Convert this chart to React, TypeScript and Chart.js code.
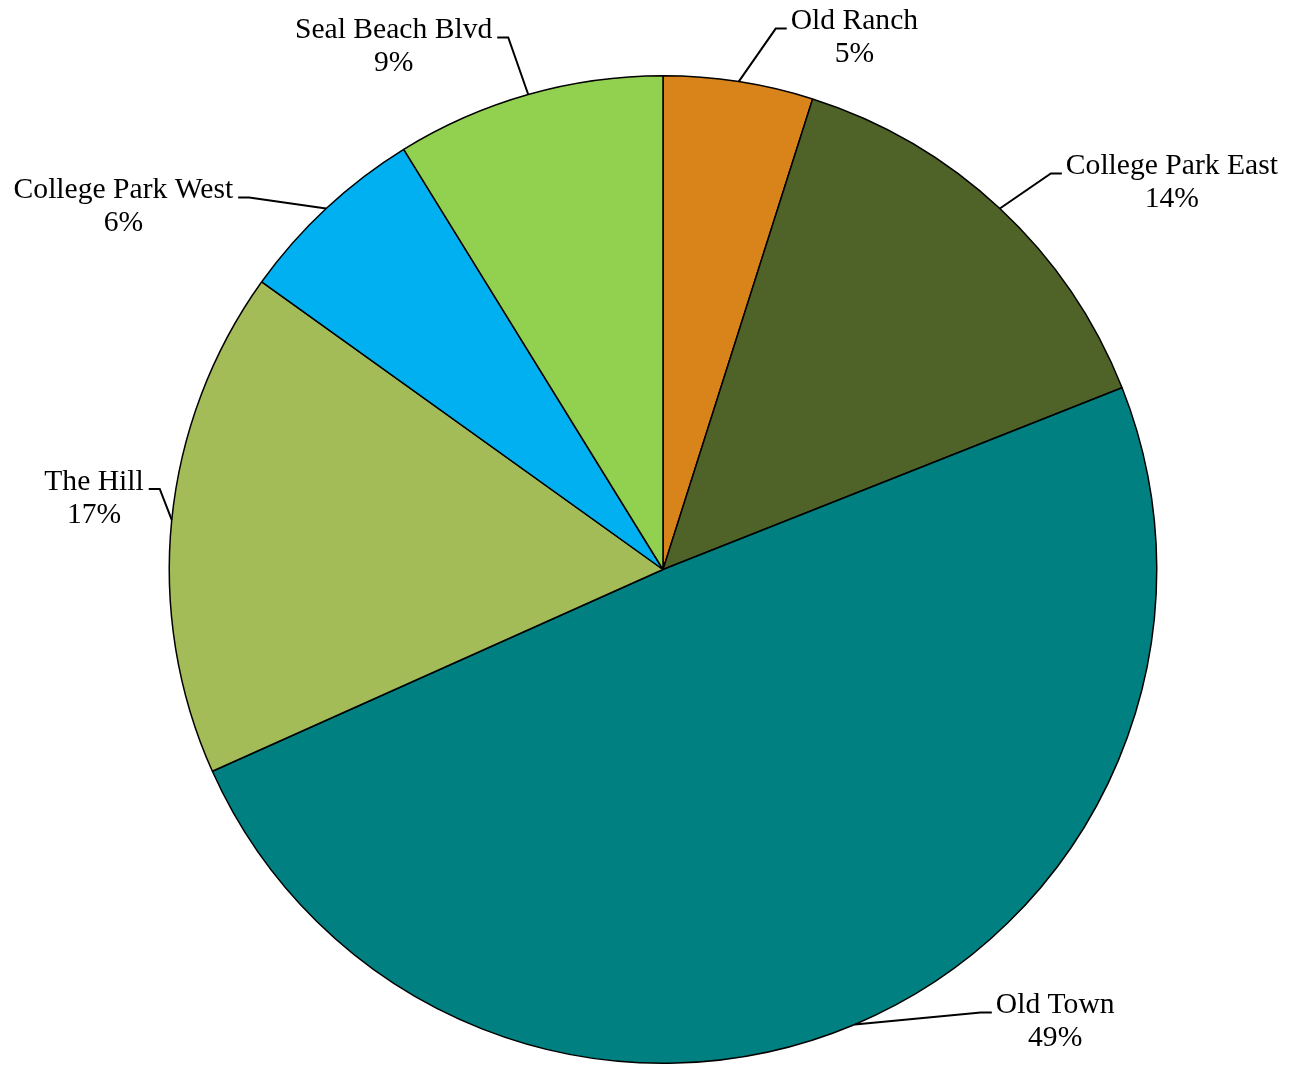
import React, { useEffect, useRef } from "react";
import { Chart, registerables } from "chart.js";

Chart.register(...registerables);

const categories = ["Old Ranch", "College Park East", "Old Town", "The Hill", "College Park West", "Seal Beach Blvd"];
const shares = [4.9, 14.1, 49.3, 16.6, 6.3, 8.8];
const colors = ["#D9841A", "#4F6228", "#008080", "#A4BC58", "#00B0F0", "#92D050"];
// leader elbow offsets from the slice's edge midpoint (layout only)
const elbowOffsets: [number, number][] = [
  [37, -53],
  [51, -35],
  [126, -12],
  [-12, -31],
  [-77, -11],
  [-20, -57],
];

const FONT = "29.6px 'Liberation Serif', 'Times New Roman', serif";

const labelPlugin = {
  id: "leaderLabels",
  afterDatasetsDraw(chart: any) {
    const ctx = chart.ctx;
    const meta = chart.getDatasetMeta(0);
    const data = chart.data.datasets[0].data as number[];
    const total = data.reduce((a, b) => a + b, 0);
    ctx.save();
    ctx.font = FONT;
    ctx.fillStyle = "#000";
    ctx.strokeStyle = "#000";
    ctx.lineWidth = 2;
    ctx.textBaseline = "middle";
    meta.data.forEach((arc: any, i: number) => {
      const p = arc.getProps(["x", "y", "startAngle", "endAngle", "outerRadius"], true);
      const mid = (p.startAngle + p.endAngle) / 2;
      const ex = p.x + Math.cos(mid) * p.outerRadius;
      const ey = p.y + Math.sin(mid) * p.outerRadius;
      const [ox, oy] = elbowOffsets[i];
      const bx = ex + ox;
      const by = ey + oy;
      const dir = ox >= 0 ? 1 : -1;
      const hx = bx + dir * 11;
      ctx.beginPath();
      ctx.moveTo(ex, ey);
      ctx.lineTo(bx, by);
      ctx.lineTo(hx, by);
      ctx.stroke();
      const line1 = categories[i];
      const line2 = Math.round((data[i] / total) * 100) + "%";
      const w = Math.max(ctx.measureText(line1).width, ctx.measureText(line2).width);
      const left = dir > 0 ? hx + 4 : hx - 5 - w;
      const cx = left + w / 2;
      ctx.textAlign = "center";
      ctx.fillText(line1, cx, by - 7);
      ctx.fillText(line2, cx, by + 26);
    });
    ctx.restore();
  },
};

export default function App() {
  const ref = useRef<HTMLCanvasElement>(null);
  useEffect(() => {
    if (!ref.current) return;
    const chart = new Chart(ref.current, {
      type: "pie",
      data: {
        labels: categories,
        datasets: [
          {
            data: shares,
            backgroundColor: colors,
            borderColor: "#000",
            borderWidth: 1.5,
          },
        ],
      },
      options: {
        responsive: false,
        animation: false,
        layout: { padding: { left: 168, top: 75, right: 136, bottom: 1 } },
        plugins: {
          legend: { display: false },
          tooltip: { enabled: false },
        },
      },
      plugins: [labelPlugin],
    });
    return () => chart.destroy();
  }, []);
  return (
    <div style={{ position: "absolute", left: 0, top: 0, width: 1294, height: 1065, background: "#fff" }}>
      <canvas ref={ref} width={1294} height={1065} />
    </div>
  );
}
